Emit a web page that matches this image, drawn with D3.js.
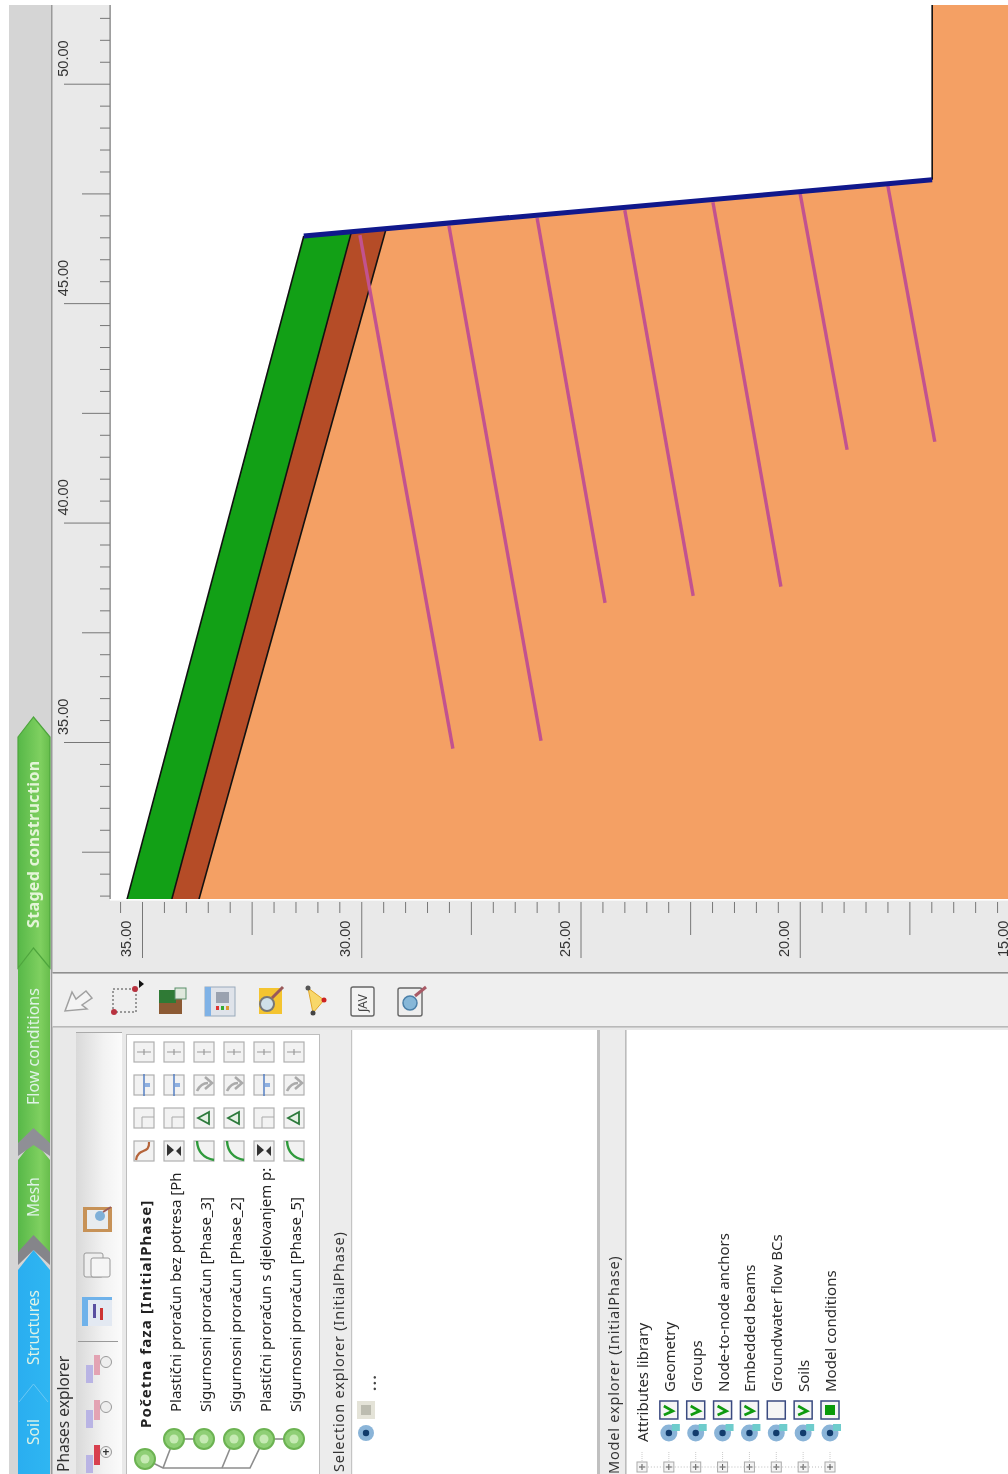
<!DOCTYPE html>
<html>
<head>
<meta charset="utf-8">
<script src="https://cdn.jsdelivr.net/npm/d3@7"></script>
<style>
  html, body { margin: 0; padding: 0; background: #fff; }
  svg { display: block; filter: blur(0.6px); }
  text { font-family: "Noto Sans", sans-serif; fill: #333; }
</style>
</head>
<body>
<div id="chart"></div>
<script>
// model values
var hTicks = [35, 30, 25, 20, 15];
var vTicks = [50, 45, 40, 35];
var hMid = [32.5, 27.5, 22.5, 17.5];
var vMid = [47.5, 42.5, 37.5, 32.5];
var hMinor = [35.5, 34.5, 34, 33.5, 33, 32, 31.5, 31, 30.5, 29.5, 29, 28.5, 28, 27, 26.5, 26, 25.5, 24.5, 24, 23.5, 23, 22, 21.5, 21, 20.5, 19.5, 19, 18.5, 18, 17, 16.5, 16, 15.5];
var vMinor = [51.5, 51, 50.5, 49.5, 49, 48.5, 48, 47, 46.5, 46, 45.5, 44.5, 44, 43.5, 43, 42, 41.5, 41, 40.5, 39.5, 39, 38.5, 38, 37, 36.5, 36, 35.5, 34.5, 34, 33.5, 33, 32, 31.5];

// soil clusters as [h, v] pairs
var vBottom = 31.42;
var orangeSoil = [[33.7, vBottom], [29.44, 46.67], [16.98, 47.81], [16.98, 52], [10, 52], [10, vBottom]];
var brownSoil = [[34.32, vBottom], [30.23, 46.6], [29.44, 46.67], [33.7, vBottom]];
var greenSoil = [[35.34, vBottom], [31.31, 46.53], [30.23, 46.6], [34.32, vBottom]];
var plate = [[31.31, 46.53], [16.98, 47.81]];
var wall = [[16.98, 47.81], [16.98, 52]];

// embedded beams: head and foot as h, v
var beamH1 = [30.03, 28.0, 25.99, 23.99, 21.98, 19.99, 17.99];
var beamV1 = [46.55, 46.76, 46.94, 47.12, 47.3, 47.49, 47.67];
var beamH2 = [27.91, 25.9, 24.44, 22.43, 20.43, 18.92, 16.92];
var beamV2 = [34.85, 35.03, 38.17, 38.33, 38.54, 41.66, 41.84];

var tabNames = ["Staged construction", "Flow conditions", "Mesh", "Structures", "Soil"];
var phaseNames = ["Početna faza [InitialPhase]", "Plastični proračun bez potresa [Ph", "Sigurnosni proračun [Phase_3]", "Sigurnosni proračun [Phase_2]", "Plastični proračun s djelovanjem p:", "Sigurnosni proračun [Phase_5]"];
var modelItems = ["Attributes library", "Geometry", "Groups", "Node-to-node anchors", "Embedded beams", "Groundwater flow BCs", "Soils", "Model conditions"];
var modelChecks = ["", "v", "v", "v", "v", "", "v", "s"];
var rowIcons = [
  ["w", "b", "f", "r"],
  ["c", "b", "f", "r"],
  ["g", "t", "a", "r"],
  ["g", "t", "a", "r"],
  ["c", "b", "f", "r"],
  ["g", "t", "a", "r"]
];

var W = 1008, H = 1474;

var svg = d3.select("#chart").append("svg").attr("width", W).attr("height", H);

var defs = svg.append("defs");
var gradBand = defs.append("linearGradient").attr("id", "band");
gradBand.append("stop").attr("offset", "0").attr("stop-color", "#d9d9d9");
gradBand.append("stop").attr("offset", "0.6").attr("stop-color", "#f2f2f2");
gradBand.append("stop").attr("offset", "1").attr("stop-color", "#fbfbfb");
var gradGreen = defs.append("linearGradient").attr("id", "tabgreen");
gradGreen.append("stop").attr("offset", "0").attr("stop-color", "#57b848");
gradGreen.append("stop").attr("offset", "0.7").attr("stop-color", "#7fd060");
gradGreen.append("stop").attr("offset", "1").attr("stop-color", "#67bd4c");
var gradBlue = defs.append("linearGradient").attr("id", "tabblue");
gradBlue.append("stop").attr("offset", "0").attr("stop-color", "#2aaef0");
gradBlue.append("stop").attr("offset", "1").attr("stop-color", "#2fb6f2");
defs.append("clipPath").attr("id", "plot").append("rect")
  .attr("x", 110).attr("y", 5).attr("width", W - 110).attr("height", 894);
defs.append("clipPath").attr("id", "phaseclip").append("rect")
  .attr("x", 127).attr("y", 1168).attr("width", 193).attr("height", 306);

function box(x, y, w, h, fill) {
  return svg.append("rect").attr("x", x).attr("y", y).attr("width", w).attr("height", h).attr("fill", fill);
}
function label(parent, x, y, txt, size, weight, fill) {
  return parent.append("text")
    .attr("transform", "translate(" + x + "," + y + ")rotate(-90)")
    .attr("font-size", size)
    .attr("font-weight", weight || "normal")
    .style("fill", fill || "#333")
    .text(txt);
}

// window frame
box(9, 5, W - 9, H - 5, "#e9e9e9");
box(9, 5, 43, H - 5, "#d5d5d5");
box(51, 5, 1.5, H - 5, "#9a9a9a");
box(52.5, 973, W - 52, 54, "#efefef");
box(52.5, 972, W - 52, 1.6, "#8f8f8f");
box(52.5, 1026, W - 52, 1.6, "#b9b9b9");
box(110, 5, W - 110, 894, "#fff");

// axes
var x = d3.scaleLinear().domain([35, 15]).range([142, 1019]);
var y = d3.scaleLinear().domain([50, 35]).range([83.7, 742]);

var line = d3.line().x(function(d) { return x(d[0]); }).y(function(d) { return y(d[1]); });

var plot = svg.append("g").attr("clip-path", "url(#plot)");

plot.append("path").datum(orangeSoil).attr("d", line).attr("fill", "#f4a064");
plot.append("path").datum(brownSoil).attr("d", line).attr("fill", "#b54c27");
plot.append("path").datum(greenSoil).attr("d", line).attr("fill", "#12a016");

var edges = [[greenSoil[0], greenSoil[1]], [brownSoil[0], brownSoil[1]], [orangeSoil[0], orangeSoil[1]], wall];
plot.selectAll(".edge").data(edges).enter().append("path")
  .attr("d", line).attr("fill", "none").attr("stroke", "#111").attr("stroke-width", 1.6);

plot.selectAll(".beam").data(beamH1).enter().append("line")
  .attr("x1", function(d) { return x(d); })
  .attr("y1", function(d, i) { return y(beamV1[i]); })
  .attr("x2", function(d, i) { return x(beamH2[i]); })
  .attr("y2", function(d, i) { return y(beamV2[i]); })
  .attr("stroke", "#c2528f").attr("stroke-width", 3.4);

plot.append("path").datum(plate).attr("d", line)
  .attr("fill", "none").attr("stroke", "#10188c").attr("stroke-width", 5);

// rulers
function ruler(g, axis, vals, size) {
  g.call(axis.tickValues(vals).tickSize(size).tickFormat(""));
  g.select(".domain").remove();
  g.selectAll("line").attr("stroke", "#777").attr("stroke-width", 1);
}
[[hMinor, 11], [hMid, 33], [hTicks, 56]].forEach(function(d) {
  var g = svg.append("g").attr("transform", "translate(0,902)");
  ruler(g, d3.axisBottom(x), d[0], d[1]);
});
[[vMinor, 10], [vMid, 28], [vTicks, 46]].forEach(function(d) {
  var g = svg.append("g").attr("transform", "translate(110,0)");
  ruler(g, d3.axisLeft(y), d[0], d[1]);
});
box(109.5, 5, 1.2, 894, "#777");
box(110, 899, W - 110, 1.6, "#fff");

hTicks.forEach(function(d) {
  label(svg, x(d) - 11, 957, d.toFixed(2), 14.5).style("font-family", "Liberation Sans");
});
vTicks.forEach(function(d) {
  label(svg, 68, y(d) - 7, d.toFixed(2), 14.5).style("font-family", "Liberation Sans");
});

// workflow tabs
function tab(y0, y1, fill, notch) {
  var p = "M18," + (y0 + 20) + "L33.5," + y0 + "L50," + (y0 + 20) + "L50," + y1;
  p += notch ? "L33.5," + (y1 - 20) + "L18," + y1 + "Z" : "L18," + y1 + "Z";
  return svg.append("path").attr("d", p).attr("fill", fill);
}
tab(1250, 1474, "url(#tabblue)", false);
tab(1140, 1262, "url(#tabgreen)", true);
tab(948, 1150, "url(#tabgreen)", false);
tab(717, 968, "url(#tabgreen)", true).attr("stroke", "#4da53c").attr("stroke-width", 1.2);
svg.append("path").attr("d", "M18,1143L33.5,1128L50,1143L50,1156L33.5,1145L18,1156Z").attr("fill", "#8f8f96");
svg.append("path").attr("d", "M18,1252L33.5,1235L50,1252L50,1265L33.5,1250L18,1265Z").attr("fill", "#85858a");
svg.append("path").attr("d", "M19,1402L33.5,1384L48,1402").attr("fill", "none").attr("stroke", "#6cc8f4").attr("stroke-width", 1);

var tabPos = [[39, 928, 16, "bold", 0.35], [39, 1105, 16, "normal", 0], [39, 1217, 15.5, "normal", 0], [39, 1365, 15.5, "normal", 0], [39, 1445, 15.5, "normal", 0]];
tabNames.forEach(function(d, i) {
  label(svg, tabPos[i][0], tabPos[i][1], d, tabPos[i][2], tabPos[i][3], i === 0 ? "#e4f5d8" : "#dff3e6")
    .style("letter-spacing", tabPos[i][4] + "px");
});

// main toolbar icons
var tb = svg.append("g");
tb.append("path").attr("d", "M65,1011L72,992L76,999L86,991L92,998L82,1005L87,1009Z").attr("fill", "#f4f4f4").attr("stroke", "#a0a0a0").attr("stroke-width", 1.5);
tb.append("rect").attr("x", 113).attr("y", 989).attr("width", 23).attr("height", 23).attr("fill", "none").attr("stroke", "#444").attr("stroke-dasharray", "2,2");
tb.append("circle").attr("cx", 114).attr("cy", 1012).attr("r", 3).attr("fill", "#b8323f");
tb.append("circle").attr("cx", 135).attr("cy", 989).attr("r", 3).attr("fill", "#b8323f");
tb.append("path").attr("d", "M139,980L144,984L139,988Z").attr("fill", "#111");
tb.append("rect").attr("x", 159).attr("y", 990).attr("width", 23).attr("height", 24).attr("fill", "#8c5a34");
tb.append("rect").attr("x", 159).attr("y", 990).attr("width", 17).attr("height", 13).attr("fill", "#2f7a35");
tb.append("rect").attr("x", 175).attr("y", 988).attr("width", 11).attr("height", 11).attr("fill", "#dfe8dc").attr("stroke", "#5a8f6a");
tb.append("rect").attr("x", 205).attr("y", 987).attr("width", 30).attr("height", 29).attr("fill", "#dfe3ea").attr("stroke", "#9ab");
tb.append("rect").attr("x", 205).attr("y", 987).attr("width", 6).attr("height", 29).attr("fill", "#7fb2e6");
tb.append("rect").attr("x", 216).attr("y", 1006).attr("width", 3).attr("height", 4).attr("fill", "#d33");
tb.append("rect").attr("x", 221).attr("y", 1006).attr("width", 3).attr("height", 4).attr("fill", "#3a3");
tb.append("rect").attr("x", 226).attr("y", 1006).attr("width", 3).attr("height", 4).attr("fill", "#d93");
tb.append("rect").attr("x", 216).attr("y", 992).attr("width", 13).attr("height", 11).attr("fill", "#9aa2b0");
tb.append("rect").attr("x", 259).attr("y", 988).attr("width", 23).attr("height", 26).attr("fill", "#f4c430");
tb.append("circle").attr("cx", 267).attr("cy", 1004).attr("r", 7).attr("fill", "#cfe0e8").attr("stroke", "#777").attr("stroke-width", 2);
tb.append("line").attr("x1", 272).attr("y1", 998).attr("x2", 283).attr("y2", 987).attr("stroke", "#9a5a5a").attr("stroke-width", 3);
tb.append("path").attr("d", "M308,988L324,1000L313,1013Z").attr("fill", "#f8d76a").attr("stroke", "#e0a62a");
tb.append("circle").attr("cx", 324).attr("cy", 1000).attr("r", 2.5).attr("fill", "#c22");
tb.append("circle").attr("cx", 308).attr("cy", 988).attr("r", 2.5).attr("fill", "#555");
tb.append("circle").attr("cx", 313).attr("cy", 1013).attr("r", 2.5).attr("fill", "#444");
tb.append("rect").attr("x", 351).attr("y", 987).attr("width", 23).attr("height", 29).attr("rx", 2).attr("fill", "#f3f3f3").attr("stroke", "#666").attr("stroke-width", 1.4);
label(tb, 367, 1012, "∫AV", 12).style("fill", "#444");
tb.append("rect").attr("x", 398).attr("y", 988).attr("width", 24).attr("height", 28).attr("rx", 2).attr("fill", "#eee").attr("stroke", "#666").attr("stroke-width", 1.4);
tb.append("circle").attr("cx", 410).attr("cy", 1003).attr("r", 7).attr("fill", "#86b7d8").attr("stroke", "#4a7fa8").attr("stroke-width", 1.5);
tb.append("line").attr("x1", 415).attr("y1", 996).attr("x2", 426).attr("y2", 987).attr("stroke", "#a85a66").attr("stroke-width", 3);

// phases explorer
label(svg, 69, 1472, "Phases explorer", 15.5);
box(76, 1032, 46, H - 1032, "url(#band)");
box(76, 1032, 46, 1, "#aaa");
box(127, 1034, 193, H - 1034, "#fff");
svg.append("rect").attr("x", 126.5).attr("y", 1034.5).attr("width", 193).attr("height", H).attr("fill", "none").attr("stroke", "#bdbdbd");
box(78, 1341, 40, 1, "#999");

function ganttIcon(yc, pink, mark) {
  var g = svg.append("g");
  g.append("rect").attr("x", 86).attr("y", yc + 3).attr("width", 7).attr("height", 18).attr("fill", "#b9b4e4");
  g.append("rect").attr("x", 94).attr("y", yc - 7).attr("width", 6).attr("height", 20).attr("fill", pink);
  g.append("circle").attr("cx", 106).attr("cy", yc).attr("r", 5.5).attr("fill", "#eee").attr("stroke", "#999");
  if (mark) {
    g.append("text").attr("x", 106).attr("y", yc + 4).attr("text-anchor", "middle").attr("font-size", 12).attr("font-weight", "bold").text("+");
  }
}
ganttIcon(1452, "#d8404f", true);
ganttIcon(1407, "#e3a3b3", false);
ganttIcon(1362, "#e3a3b3", false);
box(82, 1297, 30, 29, "#e3e9f2");
box(82, 1297, 6, 29, "#6fb2ea");
box(82, 1297, 30, 3, "#6fb2ea");
box(93, 1304, 3, 14, "#5a4fa0");
box(100, 1308, 3, 12, "#c33");
svg.append("rect").attr("x", 84).attr("y", 1253).attr("width", 19).attr("height", 24).attr("rx", 2).attr("fill", "#eee").attr("stroke", "#999");
svg.append("rect").attr("x", 91).attr("y", 1258).attr("width", 19).attr("height", 19).attr("rx", 2).attr("fill", "#f5f5f5").attr("stroke", "#999");
box(83, 1207, 29, 25, "#c79257");
box(87, 1210, 21, 19, "#e8ecef");
svg.append("circle").attr("cx", 100).attr("cy", 1216).attr("r", 5).attr("fill", "#7fb0d8");
svg.append("line").attr("x1", 103).attr("y1", 1212).attr("x2", 111).attr("y2", 1207).attr("stroke", "#9a5a5a").attr("stroke-width", 2);

var rowX = d3.scalePoint().domain(d3.range(6)).range([144, 294]);

var phaseText = svg.append("g").attr("clip-path", "url(#phaseclip)");
phaseNames.forEach(function(d, i) {
  label(phaseText, rowX(i) + 7, i === 0 ? 1428 : 1412, d, i === 0 ? 15 : 15, i === 0 ? "bold" : "normal", "#222")
    .style("letter-spacing", i === 0 ? "1.1px" : "0");
});

var colY = [1151, 1118, 1085, 1052];
rowIcons.forEach(function(row, i) {
  colY.forEach(function(cy, j) {
    var cx = rowX(i), kind = row[j];
    svg.append("rect").attr("x", cx - 10).attr("y", cy - 10).attr("width", 20).attr("height", 20).attr("fill", "#f2f2f2").attr("stroke", "#b0b0b0").attr("stroke-width", 1.2);
    if (kind === "c") {
      svg.append("path").attr("d", "M" + (cx - 7) + "," + (cy - 7) + "l7,6l-7,6zM" + (cx + 7) + "," + (cy - 5) + "l-5,5l5,5z").attr("fill", "#333");
    } else if (kind === "g") {
      svg.append("path").attr("d", "M" + (cx - 7) + "," + (cy - 10) + "Q" + (cx - 6) + "," + (cy + 6) + " " + (cx + 10) + "," + (cy + 9))
        .attr("fill", "none").attr("stroke", "#2f9a3c").attr("stroke-width", 2.4);
    } else if (kind === "w") {
      svg.append("path").attr("d", "M" + (cx - 8) + "," + (cy + 9) + "C" + (cx - 6) + "," + (cy - 4) + " " + (cx + 6) + "," + (cy + 4) + " " + (cx + 5) + "," + (cy - 9))
        .attr("fill", "none").attr("stroke", "#b5643a").attr("stroke-width", 2.2);
    } else if (kind === "t") {
      svg.append("path").attr("d", "M" + (cx + 5) + "," + (cy - 6) + "L" + (cx + 5) + "," + (cy + 6) + "L" + (cx - 6) + "," + cy + "Z").attr("fill", "#e4f0e4").attr("stroke", "#2d7a3c").attr("stroke-width", 1.8);
    } else if (kind === "b") {
      svg.append("path").attr("d", "M" + (cx + 10) + "," + (cy - 1) + "H" + (cx - 2) + "V" + (cy + 10)).attr("fill", "none").attr("stroke", "#aaa");
    } else if (kind === "a") {
      svg.append("path").attr("d", "M" + (cx - 7) + "," + (cy + 6) + "Q" + (cx - 3) + "," + (cy - 2) + " " + (cx + 4) + "," + (cy - 2) + "M" + (cx + 1) + "," + (cy - 8) + "L" + (cx + 8) + "," + (cy - 2) + "L" + (cx + 1) + "," + (cy + 4)).attr("fill", "none").attr("stroke", "#aaa").attr("stroke-width", 2.6);
    } else if (kind === "f") {
      svg.append("line").attr("x1", cx).attr("x2", cx).attr("y1", cy - 11).attr("y2", cy + 11).attr("stroke", "#4a78c0").attr("stroke-width", 1.4);
      svg.append("rect").attr("x", cx + 1).attr("y", cy - 2).attr("width", 5).attr("height", 4).attr("fill", "#8fb0e0");
    } else {
      svg.append("path").attr("d", "M" + (cx - 7) + "," + cy + "H" + (cx + 7) + "M" + cx + "," + (cy - 3) + "V" + (cy + 3)).attr("fill", "none").attr("stroke", "#999").attr("stroke-width", 1.2);
    }
  });
});

// calculation tree
var nodeX = [145].concat(d3.range(1, 6).map(function(i) { return rowX(i); }));
var nodeY = [1459, 1439, 1439, 1439, 1439, 1439];
svg.selectAll(".tree").data([
  "M" + nodeX[0] + ",1459L163,1468H250L" + nodeX[4] + ",1439",
  "M163,1468L" + nodeX[1] + ",1439",
  "M222,1468L" + nodeX[3] + ",1439",
  "M" + nodeX[1] + ",1439H" + nodeX[2],
  "M" + nodeX[4] + ",1439H" + nodeX[5]
]).enter().append("path").attr("d", String).attr("fill", "none").attr("stroke", "#8d8d8d").attr("stroke-width", 1.6);
nodeX.forEach(function(d, i) {
  svg.append("circle").attr("cx", d).attr("cy", nodeY[i]).attr("r", 10).attr("fill", "#8fcf76").attr("stroke", "#6cb352").attr("stroke-width", 2);
  svg.append("circle").attr("cx", d).attr("cy", nodeY[i]).attr("r", 4.5).attr("fill", "#c6eab4");
});

// selection explorer
box(320, 1030, 32, H - 1030, "#ececec");
box(352, 1030, 246, H - 1030, "#fff");
box(351, 1030, 1.2, H - 1030, "#c4c4c4");
box(597, 1030, 3, H - 1030, "#c0c0c0");
label(svg, 344, 1472, "Selection explorer (InitialPhase)", 14.5).style("letter-spacing", "0.8px");
box(357, 1401, 18, 18, "#e4e3d8");
box(361, 1405, 10, 10, "#bcbcb0");
svg.append("circle").attr("cx", 366).attr("cy", 1433).attr("r", 8).attr("fill", "#8ab4d8");
svg.append("circle").attr("cx", 366).attr("cy", 1433).attr("r", 3.2).attr("fill", "#123c6c");
label(svg, 376, 1391, "...", 15, "bold", "#444").style("letter-spacing", "1.5px");

// model explorer
box(600, 1030, 25, H - 1030, "#ececec");
box(626, 1030, W - 626, H - 1030, "#fff");
box(625, 1030, 1.6, H - 1030, "#bcbcbc");
label(svg, 619, 1474, "Model explorer (InitialPhase)", 14.5).style("letter-spacing", "0.8px");

var itemX = d3.scalePoint().domain(d3.range(8)).range([642, 830]);
modelItems.forEach(function(d, i) {
  var cx = itemX(i);
  label(svg, cx + 6, i === 0 ? 1442 : 1392, d, 15, "normal", "#2b2b2b");
  svg.append("rect").attr("x", cx - 5).attr("y", 1462).attr("width", 10).attr("height", 10).attr("fill", "#f4f4f4").attr("stroke", "#aaa");
  svg.append("path").attr("d", "M" + (cx - 3) + ",1467h6M" + cx + ",1464v6").attr("stroke", "#555").attr("fill", "none");
  svg.append("line").attr("x1", cx).attr("x2", cx).attr("y1", 1452).attr("y2", 1462).attr("stroke", "#ccc").attr("stroke-dasharray", "1,1");
  if (i > 0) {
    svg.append("line").attr("x1", cx - 27).attr("x2", cx - 5).attr("y1", 1467).attr("y2", 1467).attr("stroke", "#bbb").attr("stroke-dasharray", "1,2");
    svg.append("circle").attr("cx", cx).attr("cy", 1433).attr("r", 8.5).attr("fill", "#8ab4d8");
    svg.append("circle").attr("cx", cx).attr("cy", 1433).attr("r", 3.2).attr("fill", "#123c6c");
    svg.append("rect").attr("x", cx + 3).attr("y", 1424).attr("width", 8).attr("height", 7).attr("fill", "#6ecccc");
    svg.append("rect").attr("x", cx - 9).attr("y", 1401).attr("width", 18).attr("height", 18).attr("fill", "#f5f5f5").attr("stroke", "#3a4a80").attr("stroke-width", 1.5);
    if (modelChecks[i] === "v") {
      svg.append("path").attr("d", "M" + (cx - 5) + ",1406L" + (cx + 4) + ",1411L" + (cx - 5) + ",1415").attr("fill", "none").attr("stroke", "#0f9a0f").attr("stroke-width", 2.6);
    } else if (modelChecks[i] === "s") {
      svg.append("rect").attr("x", cx - 5).attr("y", 1405).attr("width", 10).attr("height", 10).attr("fill", "#0a9a0a");
    }
  }
});
</script>
</body>
</html>
